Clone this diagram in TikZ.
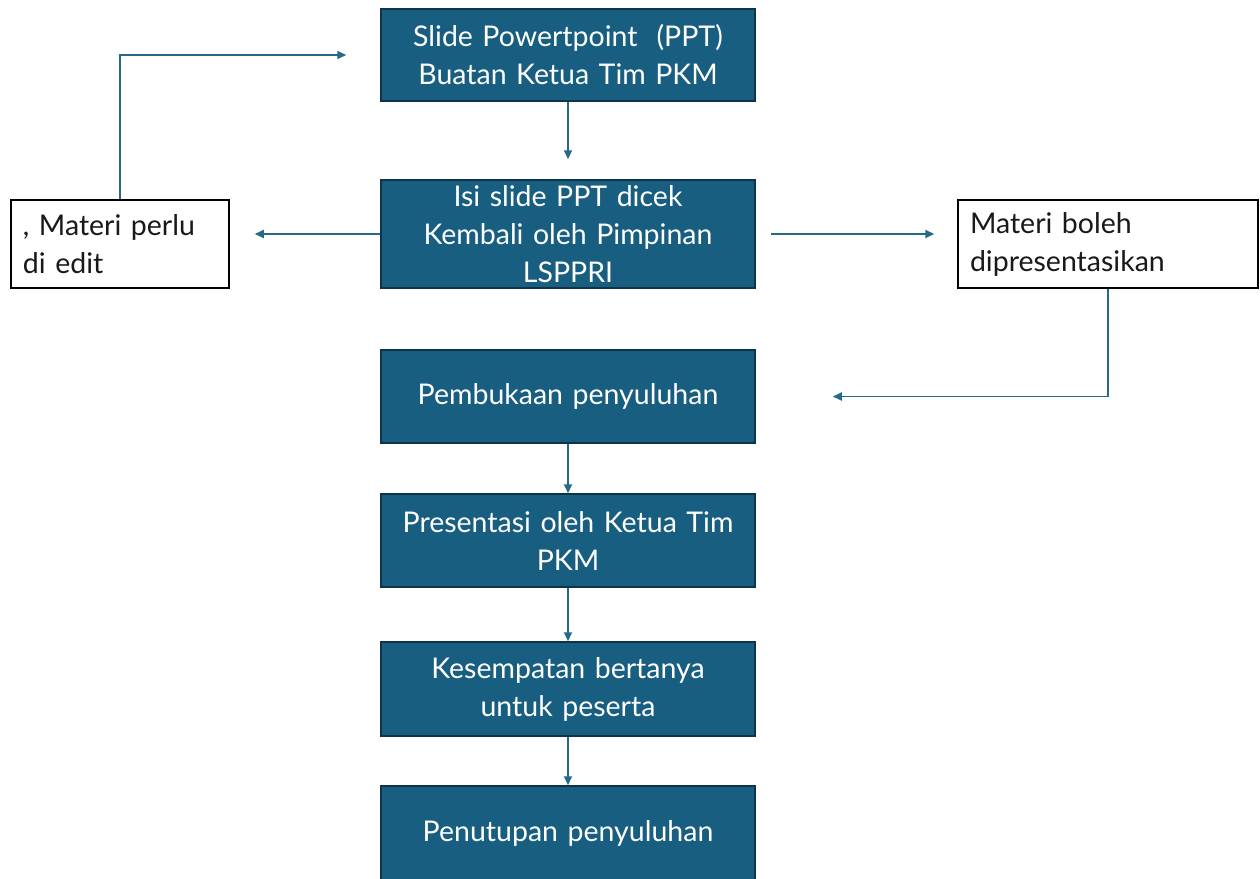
\documentclass[tikz,border=0pt]{standalone}
\usepackage{fontspec}
\setmainfont{Lato}
\usetikzlibrary{arrows.meta}
\definecolor{boxblue}{RGB}{24,94,128}
\definecolor{boxedge}{RGB}{14,52,72}
\definecolor{arrblue}{RGB}{38,106,138}
\tikzset{
  darkbox/.style={draw=boxedge, line width=1.5pt, fill=boxblue, text=white,
    minimum width=374pt, text width=366pt, align=center, inner sep=0pt,
    font=\fontsize{28.5}{38}\selectfont},
  whitebox/.style={draw=black, line width=1.5pt, fill=white, text=black!90,
    align=left, inner sep=0pt, font=\fontsize{28.5}{38}\selectfont},
  arr/.style={draw=arrblue, line width=1.8pt, -{Triangle[length=9pt,width=8pt]}}
}
\begin{document}
\begin{tikzpicture}[x=1pt,y=-1pt]
\useasboundingbox (0,0) rectangle (1260,878);
\node[darkbox, minimum height=92pt] (b1) at (568,55) {Slide Powertpoint\ \ (PPT)\\Buatan Ketua Tim PKM};
\node[darkbox, minimum height=108pt] (b2) at (568,234) {Isi slide PPT dicek\\Kembali oleh Pimpinan\\LSPPRI};
\node[whitebox, minimum width=218pt, minimum height=88pt, text width=194pt] (lbox) at (120,244) {, Materi perlu\\di edit};
\node[whitebox, minimum width=300pt, minimum height=88pt, text width=276pt] (rbox) at (1108,244) {Materi boleh\\dipresentasikan};
\node[darkbox, minimum height=93pt] (b3) at (568,396.5) {Pembukaan penyuluhan};
\node[darkbox, minimum height=93pt] (b4) at (568,540.5) {Presentasi oleh Ketua Tim\\PKM};
\node[darkbox, minimum height=94pt] (b5) at (568,689) {Kesempatan bertanya\\untuk peserta};
\node[darkbox, minimum height=94pt] (b6) at (568,833) {Penutupan penyuluhan};
\draw[arr, shorten >=20pt] (b1.south) -- (b2.north);
\draw[arr, shorten >=25pt] (b2.west) -- (b2.west -| lbox.east);
\draw[arr, shorten <=15pt, shorten >=23pt] (b2.east) -- (b2.east -| rbox.west);
\draw[arr, shorten >=34pt] (lbox.north) |- (b1.west);
\draw[arr, shorten >=77pt] (rbox.south) |- (b3.east);
\draw[arr] (b3.south) -- (b4.north);
\draw[arr] (b4.south) -- (b5.north);
\draw[arr] (b5.south) -- (b6.north);
\end{tikzpicture}
\end{document}
